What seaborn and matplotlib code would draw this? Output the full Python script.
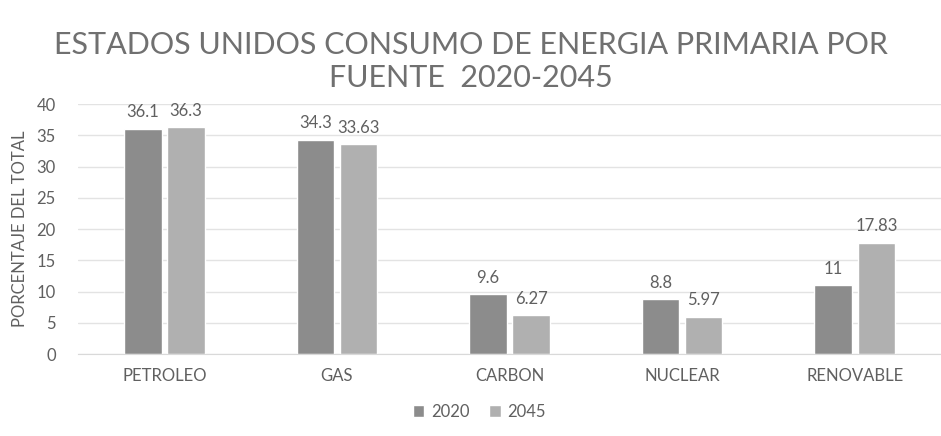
import pandas as pd
import matplotlib
matplotlib.use("Agg")
import matplotlib.pyplot as plt
import seaborn as sns

# --- Data ---
fuentes = ["PETROLEO", "GAS", "CARBON", "NUCLEAR", "RENOVABLE"]
valores_2020 = [36.1, 34.3, 9.6, 8.8, 11]
valores_2045 = [36.3, 33.63, 6.27, 5.97, 17.83]
etiquetas_2020 = ["36.1", "34.3", "9.6", "8.8", "11"]
etiquetas_2045 = ["36.3", "33.63", "6.27", "5.97", "17.83"]
anios = ["2020", "2045"]

df = pd.DataFrame({
    "Fuente": fuentes * 2,
    "Anio": [anios[0]] * len(fuentes) + [anios[1]] * len(fuentes),
    "Valor": valores_2020 + valores_2045,
})

sns.set_style("white")
plt.rcParams["font.family"] = ["Lato", "DejaVu Sans"]
gris_texto = "#606060"

fig = plt.figure(figsize=(9.41, 4.36), dpi=100)
ax = fig.add_axes([0.083, 0.188, 0.917, 0.573])

sns.barplot(data=df, x="Fuente", y="Valor", hue="Anio",
            palette=["#8c8c8c", "#b0b0b0"], width=0.5, gap=0.13,
            saturation=1, ax=ax)

for cont, labs in zip(ax.containers, [etiquetas_2020, etiquetas_2045]):
    ax.bar_label(cont, labels=labs, padding=6, fontsize=12, color=gris_texto)

ax.set_ylim(0, 40)
ax.set_yticks(range(0, 41, 5))
ax.set_xlim(-0.5, 4.5)
ax.yaxis.grid(True, color="#e3e3e3", linewidth=1)
ax.set_axisbelow(True)
for s in ["top", "right", "left"]:
    ax.spines[s].set_visible(False)
ax.spines["bottom"].set_color("#d9d9d9")
ax.tick_params(axis="y", length=0, labelsize=12, labelcolor=gris_texto, pad=16)
ax.tick_params(axis="x", length=0, labelsize=12, labelcolor=gris_texto, pad=10)
ax.set_xlabel("")
ax.set_ylabel("PORCENTAJE DEL TOTAL", fontsize=12, color=gris_texto, labelpad=6)

fig.suptitle("ESTADOS UNIDOS CONSUMO DE ENERGIA PRIMARIA POR\nFUENTE  2020-2045",
             y=0.93, fontsize=22, color="#707070", linespacing=1.25)

ax.legend(loc="upper center", bbox_to_anchor=(0.465, -0.14), ncol=2, frameon=False,
          fontsize=12, labelcolor=gris_texto, handlelength=0.7, handleheight=0.7,
          handletextpad=0.4, columnspacing=1.2)

fig.savefig("out.png", dpi=100)
